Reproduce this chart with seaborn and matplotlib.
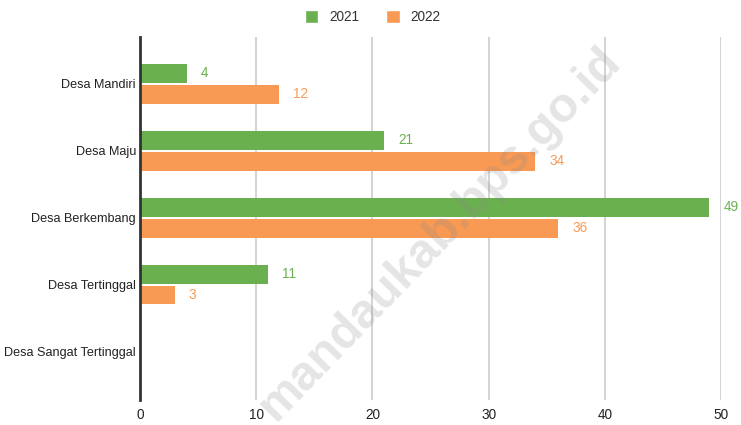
import pandas as pd
import matplotlib
matplotlib.use("Agg")
import matplotlib.pyplot as plt
import seaborn as sns
from matplotlib.patches import Patch

# data
categories = ["Desa Mandiri", "Desa Maju", "Desa Berkembang", "Desa Tertinggal", "Desa Sangat Tertinggal"]
val_2021 = [4, 21, 49, 11, 0]
val_2022 = [12, 34, 36, 3, 0]
years = ["2021", "2022"]
colors = {"2021": "#6ab04f", "2022": "#f89a53"}

df = pd.DataFrame({
    "kategori": categories * 2,
    "tahun": ["2021"] * len(categories) + ["2022"] * len(categories),
    "jumlah": val_2021 + val_2022,
})

sns.set_style("white")
plt.rcParams["font.family"] = ["Liberation Sans", "DejaVu Sans"]

fig = plt.figure(figsize=(7.41, 4.25), dpi=100)
ax = fig.add_axes([0.189, 0.059, 0.784, 0.854])

sns.barplot(data=df, y="kategori", x="jumlah", hue="tahun", orient="h",
            palette=colors, saturation=1, width=0.62, gap=0.1, legend=False, ax=ax,
            order=categories, hue_order=years, linewidth=0)

# value labels next to each bar
for cont, yr in zip(ax.containers, years):
    for bar, v in zip(cont, df[df.tahun == yr]["jumlah"]):
        if v == 0:
            continue
        ax.annotate(str(v), (bar.get_width(), bar.get_y() + bar.get_height() / 2),
                    xytext=(14, 0), textcoords="offset pixels", va="center", ha="left",
                    fontsize=9.8, color=colors[yr])

ax.set_xlim(0, 50)
ax.set_ylim(4.72, -0.70)
ax.set_xticks([0, 10, 20, 30, 40, 50])
ax.xaxis.grid(True, color="#cccccc", linewidth=1.2)
ax.set_axisbelow(True)
for s in ["top", "right", "bottom"]:
    ax.spines[s].set_visible(False)
ax.spines["left"].set_color("#333333")
ax.spines["left"].set_linewidth(2)
ax.spines["left"].set_zorder(5)
ax.tick_params(axis="y", length=0, labelsize=9.1, labelcolor="#222222", pad=3)
ax.tick_params(axis="x", length=0, labelsize=9.8, labelcolor="#222222", pad=6)
ax.set_xlabel("")
ax.set_ylabel("")

handles = [Patch(facecolor=colors[y], label=y) for y in years]
fig.legend(handles=handles, loc="upper center", bbox_to_anchor=(0.503, 1.005), ncol=2,
           frameon=False, fontsize=9.8, handlelength=1.0, handleheight=1.0,
           columnspacing=2.0, handletextpad=0.8, labelcolor="#333333")

# watermark
fig.text(0.594, 0.45, "mandaukab.bps.go.id", rotation=46, fontsize=35, fontweight="bold",
         color="#888888", alpha=0.22, ha="center", va="center", zorder=10)

fig.savefig("out.png", dpi=100)
